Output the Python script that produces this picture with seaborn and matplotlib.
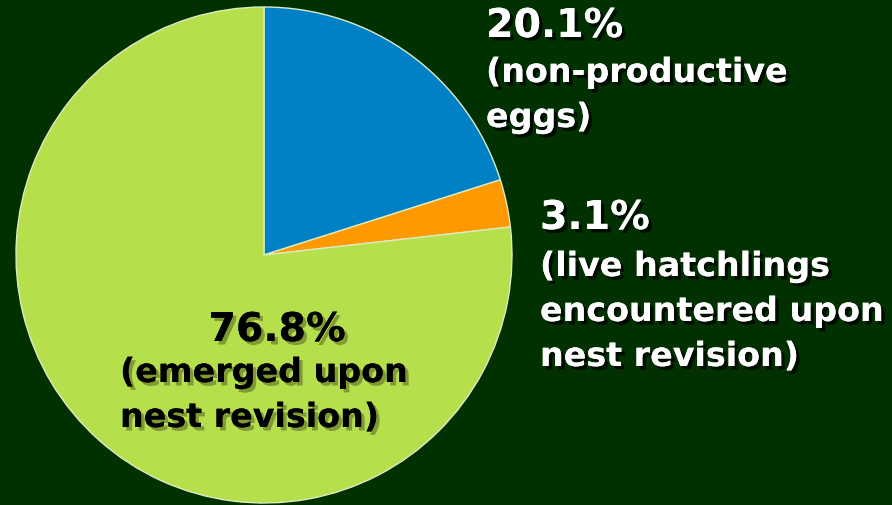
import seaborn as sns
import matplotlib.pyplot as plt
import matplotlib.patheffects as pe

# data
shares = [20.1, 3.1, 76.8]
pcts = ["20.1%", "3.1%", "76.8%"]
descs = [["(non-productive", "eggs)"],
         ["(live hatchlings", "encountered upon", "nest revision)"],
         ["(emerged upon", "nest revision)"]]
colors = ["#0081C6", "#FF9900", "#B5E04C"]

bg = "#013101"
sns.set_theme(style="white", rc={"figure.facecolor": bg, "axes.facecolor": bg})
plt.rcParams["font.family"] = ["DejaVu Sans"]

fig = plt.figure(figsize=(8.92, 5.06), dpi=100)
ax = fig.add_axes([0, 0, 1, 1])
ax.pie(shares, colors=colors, startangle=90, counterclock=False,
       wedgeprops=dict(edgecolor="#dcebc0", linewidth=1.0))
# pie centre at pixel (264, 256), radius 248 px
r = 248.0
ax.set_xlim(-264 / r, (892 - 264) / r)
ax.set_ylim(-(506 - 256) / r, 256 / r)
ax.set_aspect("auto")
ax.axis("off")

white_fx = [pe.withSimplePatchShadow(offset=(2.5, -2.5), shadow_rgbFace="black", alpha=0.75),
            pe.Normal()]
dark_fx = [pe.withSimplePatchShadow(offset=(2.5, -2.5), shadow_rgbFace="#7a9232", alpha=0.9),
           pe.Normal()]


def line(x, y, s, size, color, fx, ha="left"):
    fig.text(x / 892, 1 - y / 506, s, color=color, fontsize=size,
             fontweight="bold", va="baseline", ha=ha, path_effects=fx)


# blue wedge label
line(486, 38, pcts[0], 28.5, "white", white_fx)
for i, s in enumerate(descs[0]):
    line(486, 83 + 45 * i, s, 24, "white", white_fx)

# orange wedge label
line(540, 230, pcts[1], 28.5, "white", white_fx)
for i, s in enumerate(descs[1]):
    line(540, 277 + 45 * i, s, 24, "white", white_fx)

# green wedge label
line(277, 342, pcts[2], 28.5, "black", dark_fx, ha="center")
for i, s in enumerate(descs[2]):
    line(120, 383 + 45 * i, s, 24, "black", dark_fx)

fig.savefig("out.png", dpi=100, facecolor=bg)
